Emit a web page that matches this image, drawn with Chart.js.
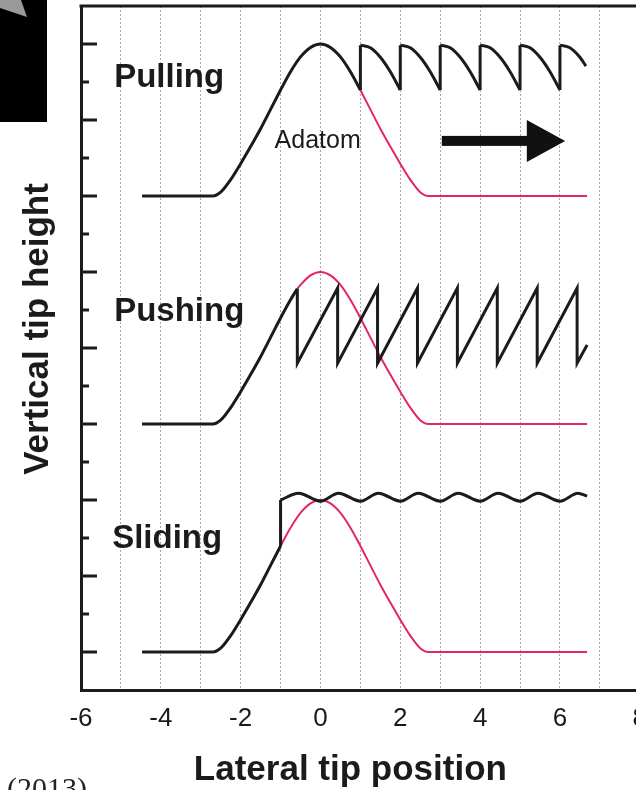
<!DOCTYPE html>
<html>
<head>
<meta charset="utf-8">
<script src="https://cdn.jsdelivr.net/npm/chart.js@4.4.1/dist/chart.umd.min.js"></script>
<style>
  html, body { margin: 0; padding: 0; background: #fff; overflow: hidden; }
  #wrap { width: 636px; height: 790px; overflow: hidden; }
</style>
</head>
<body>
<div id="wrap"><canvas id="tip" width="660" height="790"></canvas></div>
<script>
// lateral position ticks that get a label (grid runs every unit)
const xLabels = [-6, -4, -2, 0, 2, 4, 6, 8];

// Pulling: tip follows the adatom, slips back one site at a time
const pullTipX = [-4.47, -2.7, -2.5, -2.25, -2, -1.75, -1.5, -1.25, -1, -0.75, -0.5, -0.25, 0, 0.25, 0.5, 0.75, 1,
  1, 1, 1.25, 1.5, 1.75, 2,
  2, 2, 2.25, 2.5, 2.75, 3,
  3, 3, 3.25, 3.5, 3.75, 4,
  4, 4, 4.25, 4.5, 4.75, 5,
  5, 5, 5.25, 5.5, 5.75, 6,
  6, 6, 6.25, 6.5, 6.65];
const pullTipY = [13, 13, 13.1, 13.43, 13.85, 14.3, 14.77, 15.28, 15.79, 16.27, 16.66, 16.91, 17, 16.91, 16.66, 16.27, 15.79,
  null, 16.97, 16.9, 16.65, 16.27, 15.79,
  null, 16.97, 16.9, 16.65, 16.27, 15.79,
  null, 16.97, 16.9, 16.65, 16.27, 15.79,
  null, 16.97, 16.9, 16.65, 16.27, 15.79,
  null, 16.97, 16.9, 16.65, 16.27, 15.79,
  null, 16.97, 16.9, 16.65, 16.42];
const pullJumpX = [1, 1, 1, 2, 2, 2, 3, 3, 3, 4, 4, 4, 5, 5, 5, 6, 6];
const pullJumpY = [15.79, 16.97, null, 15.79, 16.97, null, 15.79, 16.97, null, 15.79, 16.97, null, 15.79, 16.97, null, 15.79, 16.97];
const pullAtomX = [1, 1.25, 1.5, 1.75, 2, 2.25, 2.5, 2.7, 6.68];
const pullAtomY = [15.79, 15.28, 14.77, 14.3, 13.85, 13.43, 13.1, 13, 13];

// Pushing: tip climbs the adatom, drops back, climbs again
const pushRiseX = [-4.47, -2.7, -2.5, -2.25, -2, -1.75, -1.5, -1.25, -1, -0.75, -0.58];
const pushRiseY = [7, 7, 7.1, 7.43, 7.85, 8.3, 8.77, 9.28, 9.79, 10.27, 10.56];
const pushSawX = [-0.58, -0.58, 0.43, 0.43, 1.43, 1.43, 2.43, 2.43, 3.43, 3.43, 4.43, 4.43, 5.43, 5.43, 6.43, 6.43, 6.68];
const pushSawY = [10.56, 8.6, 10.58, 8.6, 10.58, 8.6, 10.58, 8.6, 10.58, 8.6, 10.58, 8.6, 10.58, 8.6, 10.58, 8.6, 9.08];
const pushAtomX = [-0.58, -0.5, -0.25, 0, 0.25, 0.5, 0.75, 1, 1.25, 1.5, 1.75, 2, 2.25, 2.5, 2.7, 6.68];
const pushAtomY = [10.56, 10.66, 10.91, 11, 10.91, 10.66, 10.27, 9.79, 9.28, 8.77, 8.3, 7.85, 7.43, 7.1, 7, 7];

// Sliding: tip rides on top of the adatom
const slideTipX = [-4.47, -2.7, -2.5, -2.25, -2, -1.75, -1.5, -1.25, -1,
  -1, -1, -0.55, 0, 0.45, 1, 1.45, 2, 2.45, 3, 3.45, 4, 4.45, 5, 5.45, 6, 6.45, 6.68];
const slideTipY = [1, 1, 1.1, 1.43, 1.85, 2.3, 2.77, 3.28, 3.79,
  null, 5.0, 5.18, 4.97, 5.18, 4.97, 5.18, 4.97, 5.18, 4.97, 5.18, 4.97, 5.18, 4.97, 5.18, 4.97, 5.18, 5.1];
const slideJumpX = [-1, -1];
const slideJumpY = [3.79, 5.0];
const slideAtomX = [-1, -0.75, -0.5, -0.25, 0, 0.25, 0.5, 0.75, 1, 1.25, 1.5, 1.75, 2, 2.25, 2.5, 2.7, 6.68];
const slideAtomY = [3.79, 4.27, 4.66, 4.91, 5, 4.91, 4.66, 4.27, 3.79, 3.28, 2.77, 2.3, 1.85, 1.43, 1.1, 1, 1];

const SANS = "'Liberation Sans', Arial, Helvetica, sans-serif";
const INK = '#1b1b1b';
const RED = '#e3285c';

const pts = (xs, ys) => xs.map((v, i) => ({ x: v, y: ys[i] }));

function curve(xs, ys, color, width, smooth) {
  return {
    data: pts(xs, ys),
    borderColor: color,
    borderWidth: width,
    pointRadius: 0,
    fill: false,
    tension: 0,
    cubicInterpolationMode: smooth ? 'monotone' : 'default',
    spanGaps: false,
  };
}

// labels, arrow, inward ticks, frame
const decor = {
  id: 'decor',
  afterDraw(chart) {
    const { ctx, chartArea: a, scales: { x, y } } = chart;
    ctx.save();
    ctx.strokeStyle = INK;
    ctx.lineWidth = 3;
    ctx.beginPath();
    ctx.moveTo(a.left - 1.5, a.top);
    ctx.lineTo(a.right, a.top);
    ctx.lineTo(a.right, a.bottom);
    ctx.stroke();

    // long ticks on odd heights, short ones in between, pointing inwards
    y.ticks.forEach(t => {
      if (t.value <= y.min || t.value >= y.max) return;
      const py = y.getPixelForValue(t.value);
      ctx.beginPath();
      ctx.moveTo(a.left, py);
      ctx.lineTo(a.left + (t.value % 2 ? 16 : 8), py);
      ctx.stroke();
    });

    ctx.fillStyle = INK;
    ctx.textAlign = 'left';
    ctx.textBaseline = 'alphabetic';
    ctx.font = `bold 33px ${SANS}`;
    ctx.fillText('Pulling', x.getPixelForValue(-5.17), y.getPixelForValue(15.87));
    ctx.fillText('Pushing', x.getPixelForValue(-5.17), y.getPixelForValue(9.71));
    ctx.fillText('Sliding', x.getPixelForValue(-5.22), y.getPixelForValue(3.74));
    ctx.font = `25px ${SANS}`;
    ctx.fillText('Adatom', x.getPixelForValue(-1.15), y.getPixelForValue(14.26));

    // direction of tip motion
    const ax0 = x.getPixelForValue(3.04), ax1 = x.getPixelForValue(5.17), ax2 = x.getPixelForValue(6.13);
    const ay = y.getPixelForValue(14.45);
    ctx.fillStyle = '#111';
    ctx.fillRect(ax0, ay - 5, ax1 - ax0 + 1, 10);
    ctx.beginPath();
    ctx.moveTo(ax1, ay - 21);
    ctx.lineTo(ax2, ay);
    ctx.lineTo(ax1, ay + 21);
    ctx.closePath();
    ctx.fill();

    // axis titles
    ctx.fillStyle = INK;
    ctx.font = `bold 35px ${SANS}`;
    ctx.textAlign = 'center';
    ctx.fillText('Lateral tip position', (a.left + a.right) / 2 - 10, a.bottom + 90);
    ctx.save();
    ctx.translate(48, (a.top + a.bottom) / 2 - 19);
    ctx.rotate(-Math.PI / 2);
    ctx.fillText('Vertical tip height', 0, 0);
    ctx.restore();

    // neighbouring panel edge and caption
    ctx.fillStyle = '#000';
    ctx.fillRect(0, 0, 47, 122);
    ctx.fillStyle = '#9a9a9a';
    ctx.beginPath();
    ctx.moveTo(0, 0); ctx.lineTo(21, 0); ctx.lineTo(27, 17); ctx.lineTo(0, 8);
    ctx.closePath();
    ctx.fill();
    ctx.fillStyle = '#222';
    ctx.textAlign = 'left';
    ctx.font = "30px 'Liberation Serif', 'Times New Roman', serif";
    ctx.fillText('(2013)', 7, 798);
    ctx.restore();
  }
};

new Chart(document.getElementById('tip'), {
  type: 'line',
  data: {
    datasets: [
      curve(pullTipX, pullTipY, INK, 3, true),
      curve(pullJumpX, pullJumpY, INK, 3, false),
      curve(pushRiseX, pushRiseY, INK, 3, true),
      curve(pushSawX, pushSawY, INK, 3, false),
      curve(slideTipX, slideTipY, INK, 3, true),
      curve(slideJumpX, slideJumpY, INK, 3, false),
      curve(pullAtomX, pullAtomY, RED, 2, true),
      curve(pushAtomX, pushAtomY, RED, 2, true),
      curve(slideAtomX, slideAtomY, RED, 2, true),
    ]
  },
  options: {
    responsive: false,
    animation: false,
    layout: { padding: { top: 6, right: 20, bottom: 0, left: 0 } },
    plugins: { legend: { display: false }, tooltip: { enabled: false } },
    scales: {
      x: {
        type: 'linear',
        min: -6,
        max: 8,
        afterFit: s => { s.height = 100; },
        ticks: {
          stepSize: 1,
          autoSkip: false,
          maxRotation: 0,
          padding: 13,
          color: INK,
          font: { family: SANS, size: 26 },
          callback: v => (xLabels.includes(v) ? String(v) : ''),
        },
        grid: { color: '#a8a8a8', lineWidth: 1, drawTicks: false },
        border: { display: true, color: INK, width: 3, dash: [2, 2] },
      },
      y: {
        min: 0,
        max: 18,
        afterFit: s => { s.width = 81; },
        ticks: { display: false, stepSize: 1 },
        grid: { display: false },
        border: { display: true, color: INK, width: 3 },
      }
    }
  },
  plugins: [decor]
});
</script>
</body>
</html>
